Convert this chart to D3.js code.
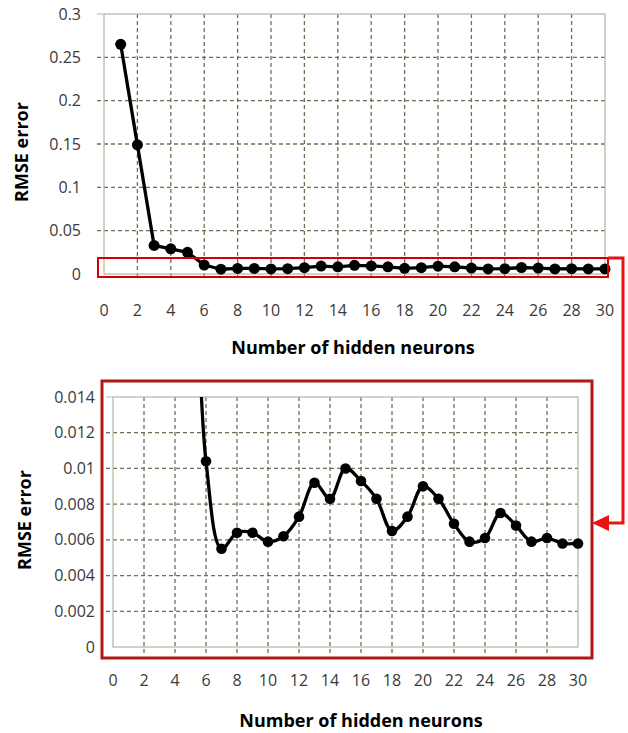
<!DOCTYPE html>
<html><head><meta charset="utf-8">
<script src="https://cdn.jsdelivr.net/npm/d3@7"></script>
<style>body{margin:0;background:#fff}svg{display:block}</style>
</head><body>
<script>
const neurons = d3.range(1, 31);
const rmse = [0.265, 0.149, 0.033, 0.029, 0.025, 0.0104, 0.0055, 0.0064, 0.0064, 0.0059,
  0.0062, 0.0073, 0.0092, 0.0083, 0.0100, 0.0093, 0.0083, 0.0065, 0.0073, 0.0090,
  0.0083, 0.0069, 0.0059, 0.0061, 0.0075, 0.0068, 0.0059, 0.0061, 0.0058, 0.0058];
const xTicks = d3.range(0, 31, 2);
const yTicksTop = [0, 0.05, 0.1, 0.15, 0.2, 0.25, 0.3];
const yTicksBottom = [0, 0.002, 0.004, 0.006, 0.008, 0.01, 0.012, 0.014];
const xTitle = "Number of hidden neurons";
const yTitle = "RMSE error";

const data = neurons.map((n, i) => ({x: n, y: rmse[i]}));
const W = 628, H = 733;
const svg = d3.select("body").append("svg").attr("width", W).attr("height", H);
const gridCol = "#6e6e52", borderCol = "#b9b9a8";
const tickFont = "'Open Sans', sans-serif";

function panel(cfg) {
  const x = d3.scaleLinear().domain([0, 30]).range([cfg.left, cfg.right]);
  const y = d3.scaleLinear().domain([0, cfg.ymax]).range([cfg.bottom, cfg.top]);
  const g = svg.append("g");
  g.selectAll(".hg").data(cfg.yTicks.filter(v => v > 0 && v < cfg.ymax)).join("line")
    .attr("x1", cfg.left - 7).attr("x2", cfg.right)
    .attr("y1", d => y(d)).attr("y2", d => y(d))
    .attr("stroke", gridCol).attr("stroke-width", 1.3).attr("stroke-dasharray", "4,3");
  g.selectAll(".vg").data(xTicks.filter(v => v > 0 && v < 30)).join("line")
    .attr("x1", d => x(d)).attr("x2", d => x(d))
    .attr("y1", cfg.top).attr("y2", cfg.bottom + 6)
    .attr("stroke", gridCol).attr("stroke-width", 1.3).attr("stroke-dasharray", "4,3");
  g.append("rect").attr("x", cfg.left).attr("y", cfg.top)
    .attr("width", cfg.right - cfg.left).attr("height", cfg.bottom - cfg.top)
    .attr("fill", "none").attr("stroke", borderCol).attr("stroke-width", 1.3);
  g.append("line").attr("x1", cfg.left - 7).attr("x2", cfg.left)
    .attr("y1", y(cfg.ymax)).attr("y2", y(cfg.ymax)).attr("stroke", borderCol);
  g.selectAll(".yl").data(cfg.yTicks).join("text")
    .attr("x", cfg.ylabX).attr("y", d => y(d)).attr("dy", "0.35em")
    .attr("text-anchor", "end").attr("font-family", tickFont).attr("font-size", cfg.fs)
    .attr("fill", "#3a3a3a").text(d => d3.format("")(+d.toFixed(3)));
  g.selectAll(".xl").data(xTicks).join("text")
    .attr("x", d => x(d)).attr("y", cfg.xlabY).attr("dy", "0.35em")
    .attr("text-anchor", "middle").attr("font-family", tickFont).attr("font-size", cfg.fs)
    .attr("fill", "#3a3a3a").text(d => d);
  g.append("text").attr("x", cfg.xTitleX).attr("y", cfg.xTitleY).attr("dy", "0.35em")
    .attr("text-anchor", "middle").attr("font-family", "'Open Sans', sans-serif")
    .attr("font-weight", "bold").attr("font-size", 18).attr("fill", "#000").text(xTitle);
  g.append("text").attr("transform", `translate(${cfg.yTitleX},${cfg.yTitleY}) rotate(-90)`)
    .attr("dy", "0.35em").attr("text-anchor", "middle")
    .attr("font-family", "'Open Sans', sans-serif")
    .attr("font-weight", "bold").attr("font-size", 18).attr("fill", "#000").text(yTitle);
  const cid = "clip" + cfg.id;
  svg.append("clipPath").attr("id", cid).append("rect")
    .attr("x", cfg.left - 8).attr("y", cfg.top).attr("width", cfg.right - cfg.left + 16)
    .attr("height", cfg.bottom - cfg.top + 8);
  const pg = g.append("g").attr("clip-path", `url(#${cid})`);
  const line = d3.line().x(d => x(d.x)).y(d => y(d.y)).curve(cfg.curve);
  pg.append("path").datum(data).attr("d", line).attr("fill", "none")
    .attr("stroke", "#000").attr("stroke-width", 3.3).attr("stroke-linejoin", "round");
  pg.selectAll("circle").data(data.filter(d => d.y <= cfg.ymax)).join("circle")
    .attr("cx", d => x(d.x)).attr("cy", d => y(d.y)).attr("r", cfg.r).attr("fill", "#000");
  return {x, y};
}

panel({id: 1, left: 104, right: 605, top: 14, bottom: 274, ymax: 0.3, yTicks: yTicksTop,
  ylabX: 81, xlabY: 310, fs: 16, xTitleX: 353, xTitleY: 348, yTitleX: 22, yTitleY: 152, r: 5.5,
  curve: d3.curveLinear});
panel({id: 2, left: 113, right: 578, top: 397, bottom: 647, ymax: 0.014, yTicks: yTicksBottom,
  ylabX: 95, xlabY: 680, fs: 16, xTitleX: 361, xTitleY: 721, yTitleX: 25, yTitleY: 520, r: 5.3,
  curve: d3.curveCatmullRom.alpha(0.5)});

const red = "#d40000";
svg.append("rect").attr("x", 98).attr("y", 258).attr("width", 510).attr("height", 19)
  .attr("fill", "none").attr("stroke", red).attr("stroke-width", 2);
svg.append("path").attr("d", "M608,258 H623 V523 H604").attr("fill", "none")
  .attr("stroke", "#ee1111").attr("stroke-width", 3);
svg.append("path").attr("d", "M592,523 L609,515 L609,531 Z").attr("fill", "#ee1111");
svg.append("rect").attr("x", 102).attr("y", 381).attr("width", 490).attr("height", 277)
  .attr("fill", "none").attr("stroke", "#b01818").attr("stroke-width", 3);
</script>
</body></html>
